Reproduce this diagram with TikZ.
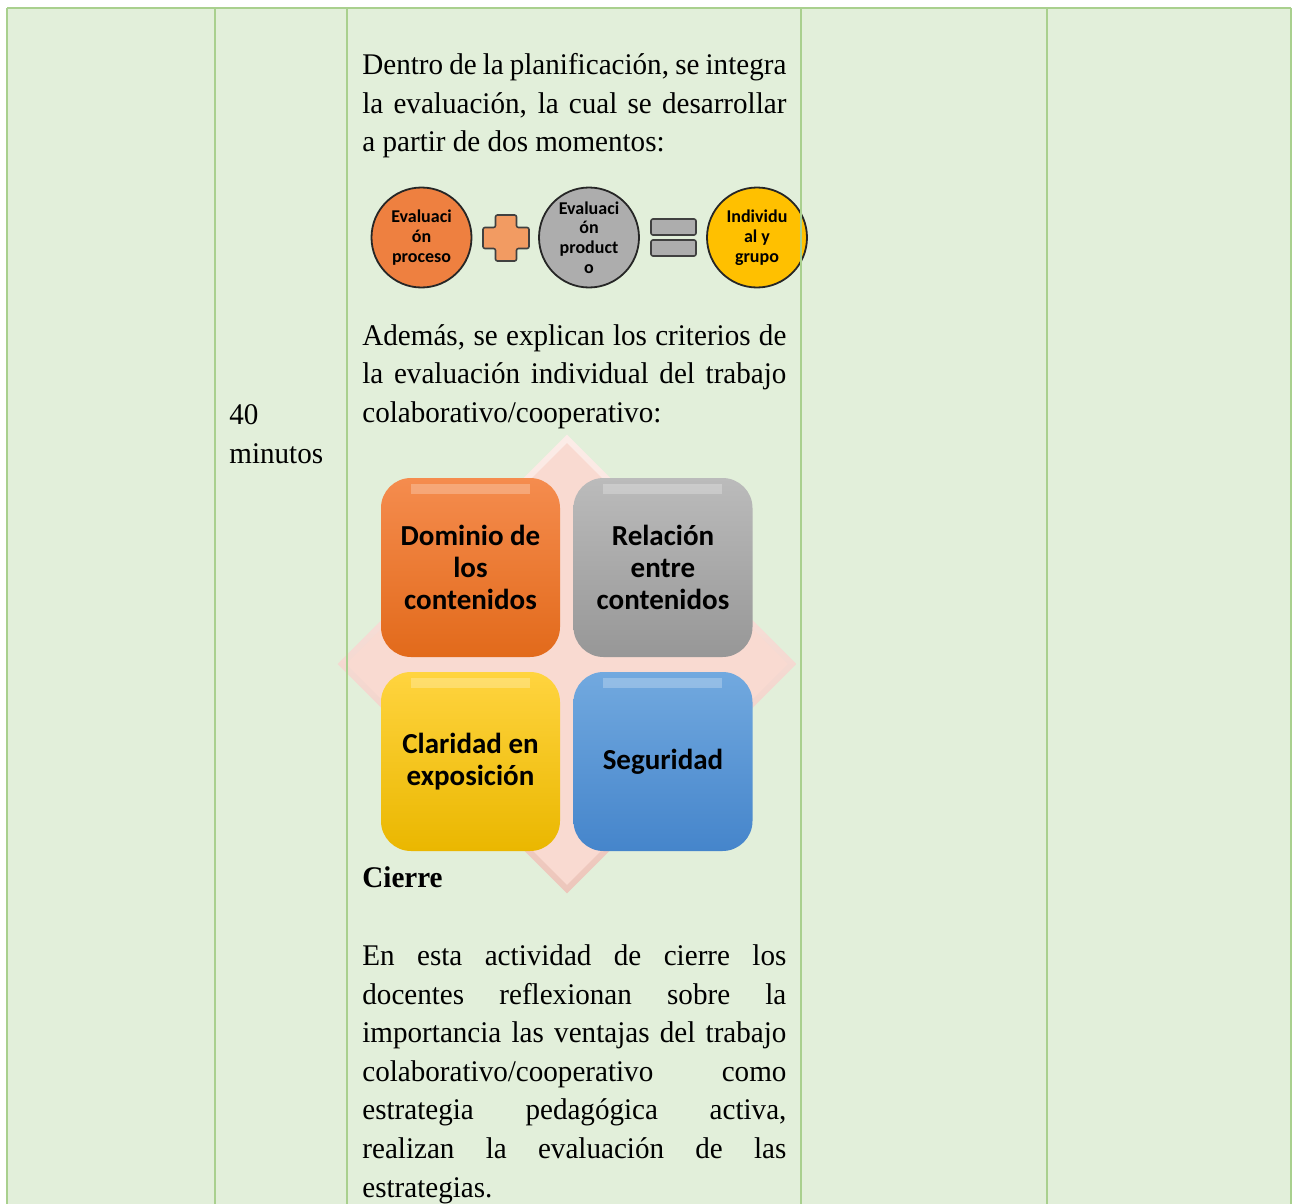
\documentclass[tikz,border=0pt]{standalone}
\usepackage{fontspec}
\setmainfont{Liberation Serif}[FakeStretch=0.97]
\newfontfamily\smartfont{Carlito}
\usepackage{tikz}
\usetikzlibrary{shapes.geometric}

\definecolor{cellbg}{HTML}{E2EFDA}
\definecolor{cellline}{HTML}{A9D08E}
\definecolor{orangetop}{HTML}{F58C4E}
\definecolor{orangebot}{HTML}{E26A1B}
\definecolor{graytop}{HTML}{BBBBBB}
\definecolor{graybot}{HTML}{979797}
\definecolor{goldtop}{HTML}{FFD43F}
\definecolor{goldbot}{HTML}{EAB700}
\definecolor{bluetop}{HTML}{72A9DF}
\definecolor{bluebot}{HTML}{4585CB}
\definecolor{pinkedge}{HTML}{EDC6BB}
\definecolor{pinkface}{HTML}{F9DAD1}
\definecolor{ballorange}{HTML}{EE8040}
\definecolor{ballgray}{HTML}{ADADAD}
\definecolor{ballgold}{HTML}{FFC000}
\definecolor{plusorange}{HTML}{F29B62}

\begin{document}
\begin{tikzpicture}[x=0.5pt, y=-0.5pt]
    % Styles
    \tikzstyle{txt} = [anchor=base west, inner sep=0pt, font=\fontsize{15}{18}\selectfont]
    \tikzstyle{ball} = [circle, draw=black!85, line width=0.9pt, minimum size=50pt, inner sep=0pt, align=center, font=\smartfont\bfseries\fontsize{9}{9.9}\selectfont]
    \tikzstyle{tile} = [rectangle, rounded corners=15pt, minimum size=89.5pt, inner sep=0pt, align=center, font=\smartfont\bfseries\fontsize{14.5}{16}\selectfont]
    \tikzstyle{sign} = [draw=black!75, line width=0.8pt, rounded corners=1pt]
    \tikzstyle{rule} = [draw=cellline, line width=0.8pt]

    \useasboundingbox (0,0) rectangle (1296,1204);

    % Table cells
    \fill[cellbg] (7,8) rectangle (1291,1204);

    % Backdrop diamond
    \node[diamond, aspect=1, minimum size=229.5pt, inner sep=0pt, top color=pinkface!50!white, bottom color=pinkedge] (backdrop) at (567,664) {};
    \node[diamond, aspect=1, minimum size=221pt, inner sep=0pt, fill=pinkface] (backface) at (567,664) {};

    % Criteria tiles
    \node[tile, top color=orangetop, bottom color=orangebot] (dominio) at (470.5,567.5) {Dominio de\\los\\contenidos};
    \node[tile, top color=graytop, bottom color=graybot] (relacion) at (663,567.5) {Relación\\entre\\contenidos};
    \node[tile, top color=goldtop, bottom color=goldbot] (claridad) at (470.5,761.5) {Claridad en\\exposición};
    \node[tile, top color=bluetop, bottom color=bluebot] (seguridad) at (663,761.5) {Seguridad};
    \foreach \x/\y in {381/478, 573/478, 381/672, 573/672} {
        \fill[white, opacity=.25] (\x+30,\y+6) rectangle (\x+149,\y+16);
    }

    % Evaluation moments
    \node[ball, fill=ballorange] (proceso) at (421.5,237.5) {Evaluaci\\ón\\proceso};
    \node[ball, fill=ballgray] (producto) at (589,237.5) {Evaluaci\\ón\\product\\o};
    \node[ball, fill=ballgold] (grupo) at (757,237.5) {Individu\\al y\\grupo};
    \draw[sign, fill=plusorange] (495.5,215) -- (516.5,215) -- (516.5,227.5) -- (529,227.5) -- (529,248.5) -- (516.5,248.5) -- (516.5,261) -- (495.5,261) -- (495.5,248.5) -- (483,248.5) -- (483,227.5) -- (495.5,227.5) -- cycle;
    \draw[sign, fill=ballgray] (651,219) rectangle (696,235);
    \draw[sign, fill=ballgray] (651,240) rectangle (696,256);

    % Time column
    \node[txt] (tiempo) at (229,424) {40};
    \node[txt] (unidad) at (229,463) {minutos};

    % Activity text
    \node[txt] (p1a) at (362,75) {\makebox[212pt][s]{Dentro de la planificación, se integra}};
    \node[txt] (p1b) at (362,114) {\makebox[212pt][s]{la evaluación, la cual se desarrollar}};
    \node[txt] (p1c) at (362,152) {a partir de dos momentos:};
    \node[txt] (p2a) at (362,345) {\makebox[212pt][s]{Además, se explican los criterios de}};
    \node[txt] (p2b) at (362,383.5) {\makebox[212pt][s]{la evaluación individual del trabajo}};
    \node[txt] (p2c) at (362,422) {colaborativo/cooperativo:};
    \node[txt] (cierre) at (362,887) {\textbf{Cierre}};
    \node[txt] (p3a) at (362,965) {\makebox[212pt][s]{En esta actividad de cierre los}};
    \node[txt] (p3b) at (362,1004) {\makebox[212pt][s]{docentes reflexionan sobre la}};
    \node[txt] (p3c) at (362,1042.5) {\makebox[212pt][s]{importancia las ventajas del trabajo}};
    \node[txt] (p3d) at (362,1081) {\makebox[212pt][s]{colaborativo/cooperativo como}};
    \node[txt] (p3e) at (362,1119.5) {\makebox[212pt][s]{estrategia pedagógica activa,}};
    \node[txt] (p3f) at (362,1158.5) {\makebox[212pt][s]{realizan la evaluación de las}};
    \node[txt] (p3g) at (362,1197) {estrategias.};

    % Table rules
    \draw[rule] (7,8) -- (1291,8);
    \foreach \x in {7, 215, 347, 801, 1047, 1291} {
        \draw[rule] (\x,8) -- (\x,1204);
    }
\end{tikzpicture}
\end{document}
